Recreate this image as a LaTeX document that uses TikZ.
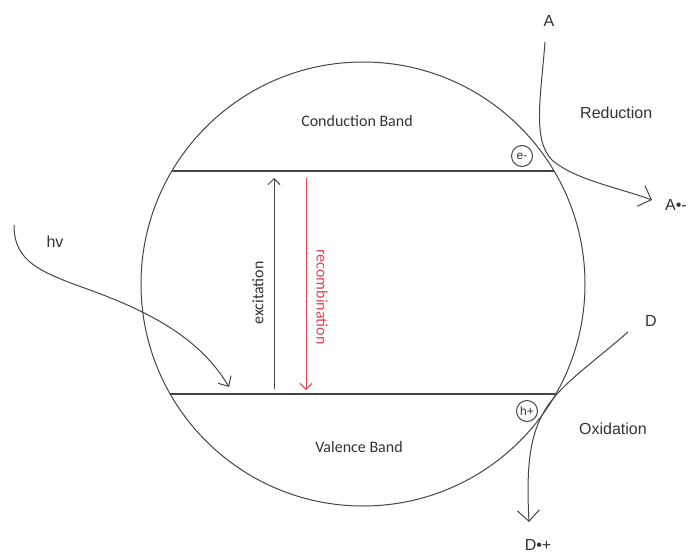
\documentclass[tikz,border=0pt]{standalone}
\usepackage{fontspec}
\setmainfont{Liberation Sans}
\newfontfamily\carlitofont{Carlito}
\usetikzlibrary{arrows.meta}
\definecolor{ink}{HTML}{454545}
\definecolor{txt}{HTML}{333333}
\definecolor{recred}{HTML}{E8434E}
\tikzset{
  every picture/.style={x=1pt,y=-1pt},
  line/.style={draw=ink,line width=1pt},
  flow/.style={line,-{Straight Barb[length=11pt,width=22pt,line width=1pt]}},
  smallflow/.style={line,-{Straight Barb[length=6pt,width=12pt,line width=1pt]}},
  lbl/.style={text=txt,font=\fontsize{16}{18}\selectfont,inner sep=0pt},
  bandlbl/.style={text=txt,font=\carlitofont\fontsize{16}{18}\selectfont,inner sep=0pt},
  carrier/.style={circle,draw=ink,line width=1pt,minimum size=21pt,inner sep=0pt,
    text=txt,font=\fontsize{12}{12}\selectfont},
}
\begin{document}
\begin{tikzpicture}
\useasboundingbox (0,0) rectangle (688,554);
% semiconductor particle
\node[circle,line,minimum size=444pt,inner sep=0pt] (particle) at (363,284) {};
% band edges
\coordinate (cbL) at (172,171); \coordinate (cbR) at (554,171);
\coordinate (vbL) at (170,394); \coordinate (vbR) at (556,394);
\draw[line,line width=1.1pt] (cbL) -- (cbR);
\draw[line,line width=1.1pt] (vbL) -- (vbR);
\node[bandlbl] (cb) at (357,121) {Conduction Band};
\node[bandlbl] (vb) at (359,447) {Valence Band};
% excitation / recombination
\coordinate (exB) at (274,389); \coordinate (exT) at (274,178);
\coordinate (reT) at (306,178); \coordinate (reB) at (306,390);
\draw[smallflow] (exB) -- (exT);
\draw[smallflow,draw=recred] (reT) -- (reB);
\node[bandlbl,rotate=90] (ex) at (258,293) {excitation};
\node[bandlbl,rotate=-90,text=recred] (re) at (322,297) {recombination};
% carriers
\node[carrier] (e) at (522,156) {e-};
\node[carrier] (h) at (527,411) {h+};
% photon
\node[lbl] (hv) at (55,242) {hv};
\coordinate (hvS) at (14,225); \coordinate (hvE) at (229,387);
\draw[line,-{Straight Barb[length=8pt,width=15pt,line width=1pt]}]
  (hvS) .. controls (14,262) and (40,272) .. (90,290)
        .. controls (150,312) and (200,338) .. (hvE);
% reduction
\node[lbl] (A) at (549,21) {A};
\node[lbl,anchor=west] (Am) at (665,205) {A•-};
\node[lbl,anchor=west] (red) at (580,113) {Reduction};
\coordinate (aS) at (545,42); \coordinate (aE) at (652,200);
\draw[flow] (aS) .. controls (541,95) and (532,140) .. (552,160)
               .. controls (575,180) and (620,188) .. (aE);
% oxidation
\node[lbl] (D) at (651,321) {D};
\node[lbl] (Dp) at (538,545) {D•+};
\node[lbl,anchor=west] (ox) at (579,429) {Oxidation};
\coordinate (dS) at (628,332); \coordinate (dE) at (529,522);
\draw[flow] (dS) .. controls (590,365) and (560,385) .. (545,410)
               .. controls (530,435) and (526,465) .. (dE);
\end{tikzpicture}
\end{document}
